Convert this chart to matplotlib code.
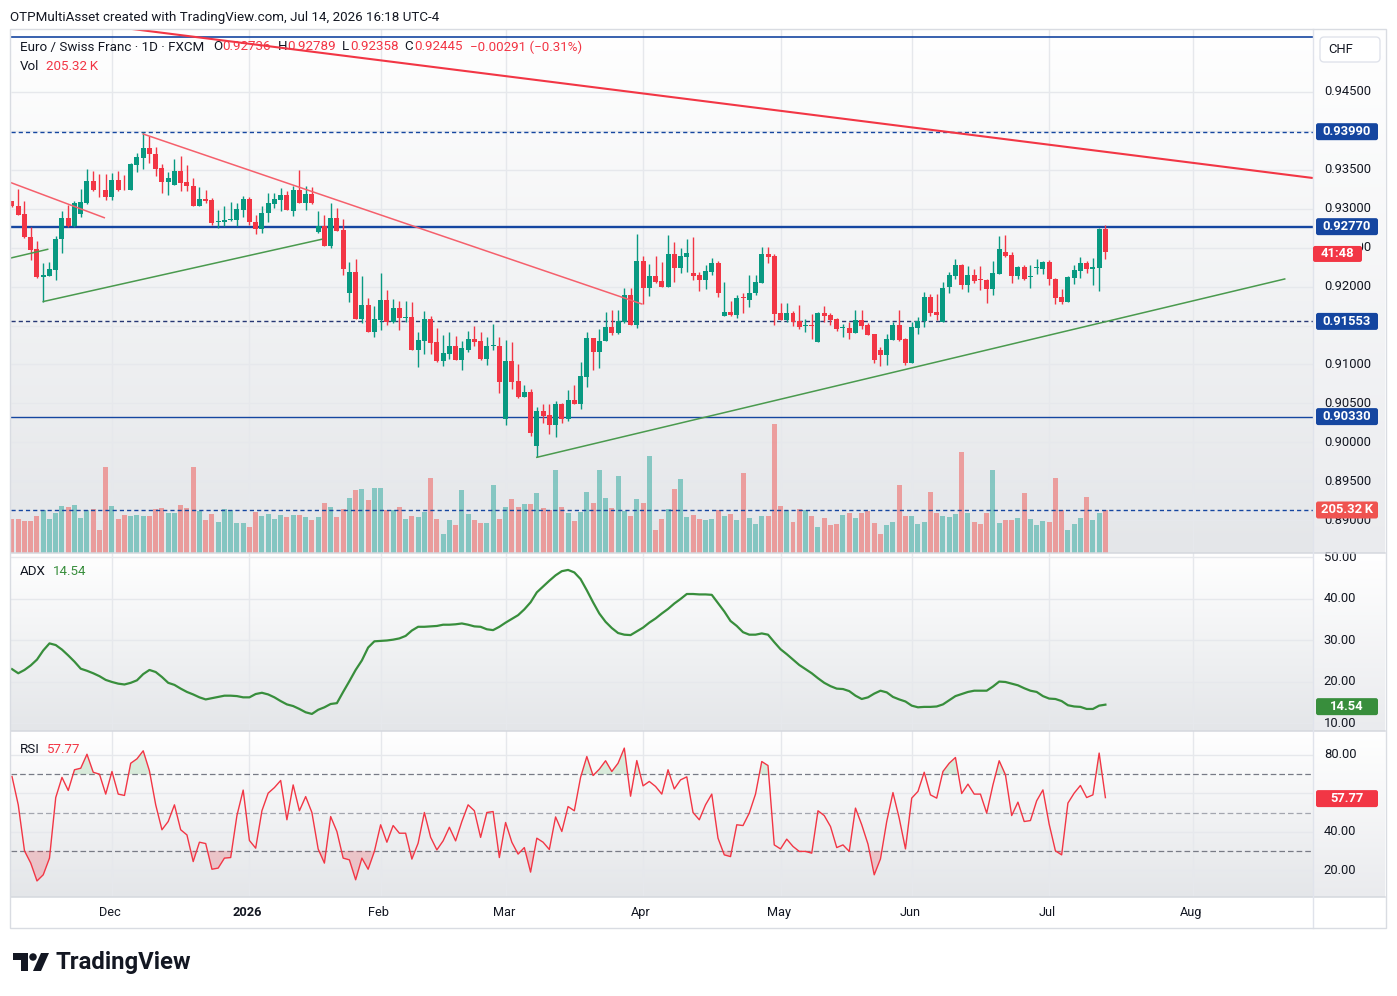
import matplotlib
matplotlib.use("Agg")
import matplotlib.pyplot as plt
import matplotlib.colors as mcolors
from matplotlib.patches import Rectangle, Ellipse, Polygon, FancyBboxPatch
from matplotlib.transforms import Bbox
import numpy as np
import pandas as pd

plt.rcParams['font.family'] = ['Roboto', 'DejaVu Sans']

# ---------------- data (EUR/CHF daily) ----------------
opens = [
    0.93094, 0.93038, 0.92936, 0.92641, 0.92487, 0.92120, 0.92141, 0.92218, 0.92607, 0.92885,
    0.92774, 0.92927, 0.93077, 0.93359, 0.93256, 0.93244, 0.93145, 0.93372, 0.93256, 0.93235,
    0.93564, 0.93658, 0.93782, 0.93709, 0.93526, 0.93338, 0.93299, 0.93487, 0.93338, 0.93295,
    0.93030, 0.93128, 0.93115, 0.92825, 0.92825, 0.92850, 0.92850, 0.92987, 0.93128, 0.92833,
    0.92744, 0.92940, 0.93064, 0.93115, 0.93179, 0.92974, 0.93244, 0.93068, 0.93192, 0.92705,
    0.92782, 0.92526, 0.92885, 0.92731, 0.91924, 0.92193, 0.91578, 0.91770, 0.91412, 0.91565,
    0.91834, 0.91544, 0.91719, 0.91595, 0.91604, 0.91180, 0.91296, 0.91578, 0.91283, 0.91040,
    0.91130, 0.91232, 0.91051, 0.91192, 0.91333, 0.91295, 0.91064, 0.91235, 0.91243, 0.90295,
    0.91038, 0.90782, 0.90577, 0.90641, 0.89948, 0.90397, 0.90346, 0.90218, 0.90487, 0.90295,
    0.90538, 0.90487, 0.90833, 0.91346, 0.91166, 0.91295, 0.91487, 0.91410, 0.91551, 0.91897,
    0.91513, 0.92333, 0.91987, 0.92141, 0.92077, 0.92000, 0.92423, 0.92244, 0.92385, 0.92180,
    0.92154, 0.92090, 0.92192, 0.92308, 0.91628, 0.91679, 0.91641, 0.91859, 0.91833, 0.91923,
    0.92051, 0.92423, 0.92397, 0.91667, 0.91577, 0.91667, 0.91564, 0.91491, 0.91500, 0.91282,
    0.91667, 0.91641, 0.91590, 0.91470, 0.91474, 0.91410, 0.91577, 0.91513, 0.91397, 0.91192,
    0.91115, 0.91320, 0.91513, 0.91333, 0.91013, 0.91474, 0.91564, 0.91872, 0.91679, 0.91551,
    0.92000, 0.92141, 0.92282, 0.92026, 0.92154, 0.92090, 0.92090, 0.91974, 0.92167, 0.92449,
    0.92410, 0.92141, 0.92256, 0.92120, 0.92235, 0.92231, 0.92320, 0.92102, 0.91872, 0.91808,
    0.92115, 0.92205, 0.92308, 0.92231, 0.92244, 0.92736]
highs = [
    0.93103, 0.93256, 0.93103, 0.92761, 0.92590, 0.92304, 0.92321, 0.92645, 0.92966, 0.93051,
    0.93103, 0.93256, 0.93513, 0.93479, 0.93449, 0.93444, 0.93453, 0.93483, 0.93436, 0.93585,
    0.93718, 0.93990, 0.93936, 0.93790, 0.93577, 0.93474, 0.93641, 0.93679, 0.93564, 0.93397,
    0.93282, 0.93244, 0.93137, 0.92987, 0.93038, 0.93090, 0.93077, 0.93167, 0.93145, 0.92915,
    0.93038, 0.93196, 0.93205, 0.93265, 0.93231, 0.93295, 0.93500, 0.93295, 0.93282, 0.92974,
    0.92923, 0.93077, 0.93013, 0.92872, 0.92321, 0.92359, 0.92133, 0.91860, 0.91745, 0.92180,
    0.91950, 0.91847, 0.91821, 0.91821, 0.91796, 0.91412, 0.91693, 0.91617, 0.91463, 0.91373,
    0.91412, 0.91360, 0.91307, 0.91436, 0.91500, 0.91423, 0.91359, 0.91525, 0.91359, 0.91320,
    0.91282, 0.91000, 0.90731, 0.90679, 0.90448, 0.90487, 0.90487, 0.90525, 0.90500, 0.90666,
    0.90731, 0.91026, 0.91423, 0.91346, 0.91461, 0.91679, 0.91705, 0.91705, 0.91987, 0.91987,
    0.92680, 0.92397, 0.92295, 0.92397, 0.92320, 0.92667, 0.92577, 0.92500, 0.92615, 0.92641,
    0.92192, 0.92282, 0.92372, 0.92333, 0.92064, 0.91820, 0.91897, 0.91923, 0.92154, 0.92154,
    0.92513, 0.92513, 0.92423, 0.91795, 0.91795, 0.91692, 0.91769, 0.91590, 0.91654, 0.91679,
    0.91756, 0.91667, 0.91602, 0.91525, 0.91551, 0.91705, 0.91705, 0.91538, 0.91397, 0.91218,
    0.91397, 0.91551, 0.91705, 0.91346, 0.91551, 0.91615, 0.91936, 0.91910, 0.91910, 0.92064,
    0.92192, 0.92359, 0.92295, 0.92269, 0.92231, 0.92269, 0.92102, 0.92333, 0.92654, 0.92667,
    0.92449, 0.92269, 0.92282, 0.92282, 0.92359, 0.92333, 0.92346, 0.92115, 0.91974, 0.92141,
    0.92282, 0.92385, 0.92333, 0.92372, 0.92756, 0.92789]
lows = [
    0.93021, 0.92915, 0.92624, 0.92338, 0.92116, 0.91808, 0.92133, 0.92082, 0.92428, 0.92765,
    0.92761, 0.92889, 0.93064, 0.93222, 0.93154, 0.93111, 0.93115, 0.93231, 0.93244, 0.93235,
    0.93466, 0.93513, 0.93585, 0.93423, 0.93205, 0.93171, 0.93299, 0.93222, 0.93222, 0.93030,
    0.93030, 0.93073, 0.92791, 0.92748, 0.92774, 0.92838, 0.92774, 0.92889, 0.92791, 0.92671,
    0.92684, 0.92833, 0.93013, 0.92966, 0.92979, 0.92902, 0.93068, 0.92979, 0.93056, 0.92692,
    0.92526, 0.92500, 0.92718, 0.92154, 0.91808, 0.91578, 0.91527, 0.91412, 0.91348, 0.91437,
    0.91501, 0.91527, 0.91437, 0.91544, 0.91180, 0.90962, 0.91130, 0.91130, 0.91027, 0.90975,
    0.91066, 0.91053, 0.90923, 0.91154, 0.91231, 0.91051, 0.90987, 0.91192, 0.90628, 0.90218,
    0.90679, 0.90564, 0.90577, 0.90077, 0.89807, 0.90243, 0.90102, 0.90064, 0.90243, 0.90269,
    0.90487, 0.90423, 0.90705, 0.90923, 0.90948, 0.91295, 0.91384, 0.91397, 0.91538, 0.91513,
    0.91474, 0.91782, 0.91884, 0.92051, 0.92000, 0.92000, 0.92064, 0.92180, 0.92192, 0.92090,
    0.91949, 0.91974, 0.92154, 0.91872, 0.91628, 0.91628, 0.91602, 0.91667, 0.91743, 0.91897,
    0.92051, 0.92308, 0.91513, 0.91577, 0.91551, 0.91500, 0.91461, 0.91423, 0.91333, 0.91282,
    0.91551, 0.91513, 0.91436, 0.91359, 0.91333, 0.91410, 0.91461, 0.91384, 0.91013, 0.90974,
    0.90987, 0.91320, 0.91307, 0.90987, 0.91013, 0.91397, 0.91487, 0.91628, 0.91577, 0.91551,
    0.91923, 0.92102, 0.91974, 0.91936, 0.92051, 0.91961, 0.91795, 0.91897, 0.92167, 0.92385,
    0.92051, 0.92102, 0.92090, 0.91987, 0.92167, 0.92167, 0.92026, 0.91782, 0.91782, 0.91808,
    0.92038, 0.92115, 0.92180, 0.92026, 0.91949, 0.92358]
closes = [
    0.93030, 0.92923, 0.92633, 0.92475, 0.92120, 0.92154, 0.92231, 0.92616, 0.92885, 0.92774,
    0.93077, 0.93090, 0.93359, 0.93244, 0.93248, 0.93145, 0.93372, 0.93244, 0.93248, 0.93577,
    0.93666, 0.93782, 0.93697, 0.93517, 0.93338, 0.93397, 0.93487, 0.93329, 0.93286, 0.93030,
    0.93128, 0.93103, 0.92812, 0.92833, 0.92859, 0.92859, 0.93000, 0.93128, 0.92825, 0.92744,
    0.92949, 0.93073, 0.93128, 0.93179, 0.92979, 0.93244, 0.93068, 0.93192, 0.93077, 0.92782,
    0.92526, 0.92885, 0.92718, 0.92231, 0.92193, 0.91578, 0.91770, 0.91412, 0.91578, 0.91834,
    0.91544, 0.91719, 0.91591, 0.91604, 0.91180, 0.91309, 0.91578, 0.91271, 0.91040, 0.91143,
    0.91232, 0.91053, 0.91205, 0.91333, 0.91282, 0.91064, 0.91231, 0.91243, 0.90769, 0.91038,
    0.90769, 0.90577, 0.90641, 0.90115, 0.90397, 0.90333, 0.90218, 0.90487, 0.90295, 0.90538,
    0.90487, 0.90846, 0.91346, 0.91166, 0.91307, 0.91487, 0.91410, 0.91564, 0.91897, 0.91513,
    0.92333, 0.91987, 0.92141, 0.92064, 0.92000, 0.92423, 0.92244, 0.92397, 0.92436, 0.92141,
    0.92090, 0.92205, 0.92308, 0.91923, 0.91679, 0.91641, 0.91859, 0.91850, 0.91923, 0.92064,
    0.92423, 0.92385, 0.91654, 0.91577, 0.91667, 0.91551, 0.91487, 0.91500, 0.91491, 0.91667,
    0.91628, 0.91577, 0.91449, 0.91478, 0.91410, 0.91577, 0.91500, 0.91384, 0.91051, 0.91115,
    0.91333, 0.91513, 0.91320, 0.91013, 0.91487, 0.91564, 0.91872, 0.91667, 0.91641, 0.91987,
    0.92154, 0.92282, 0.92026, 0.92154, 0.92077, 0.92081, 0.91974, 0.92180, 0.92487, 0.92397,
    0.92141, 0.92256, 0.92102, 0.92128, 0.92244, 0.92320, 0.92102, 0.91859, 0.91808, 0.92128,
    0.92218, 0.92308, 0.92231, 0.92256, 0.92744, 0.92445]
volumes_k = [
    163, 163, 154, 154, 177, 205, 163, 191, 224, 219,
    229, 168, 205, 210, 111, 412, 224, 163, 182, 177,
    182, 177, 177, 210, 215, 191, 191, 229, 215, 412,
    201, 158, 186, 149, 210, 205, 144, 144, 125, 194,
    177, 186, 163, 182, 172, 182, 182, 172, 158, 172,
    238, 219, 172, 210, 262, 299, 304, 252, 309, 309,
    205, 205, 219, 163, 177, 172, 194, 356, 163, 92,
    158, 135, 299, 186, 158, 144, 144, 323, 163, 219,
    257, 219, 233, 233, 285, 215, 205, 398, 219, 191,
    154, 194, 290, 238, 398, 262, 215, 370, 201, 177,
    257, 238, 464, 111, 163, 210, 304, 351, 172, 182,
    163, 158, 163, 205, 177, 186, 158, 384, 168, 139,
    177, 177, 614, 224, 205, 149, 210, 205, 177, 125,
    168, 135, 139, 182, 191, 168, 191, 201, 144, 92,
    135, 149, 323, 177, 177, 139, 149, 290, 191, 177,
    172, 186, 483, 191, 149, 139, 191, 398, 144, 158,
    158, 168, 285, 163, 135, 154, 149, 356, 205, 111,
    139, 168, 266, 158, 191, 205.32]
adx = [
    23.1, 22.1, 22.9, 24.0, 25.4, 27.6, 29.3, 28.9, 27.8, 26.4,
    24.9, 23.2, 22.7, 22.1, 21.4, 20.5, 20.0, 19.6, 19.4, 19.8,
    20.4, 21.9, 22.9, 22.4, 21.2, 19.8, 19.3, 18.4, 17.6, 17.0,
    16.3, 15.8, 16.1, 16.4, 16.7, 16.7, 16.6, 16.3, 16.3, 17.1,
    17.4, 17.0, 16.3, 15.4, 14.6, 14.2, 13.5, 12.7, 12.3, 13.3,
    13.9, 14.7, 14.9, 17.6, 20.2, 22.9, 25.2, 28.3, 29.8, 29.9,
    30.0, 30.2, 30.5, 31.1, 32.4, 33.3, 33.3, 33.4, 33.5, 33.8,
    33.8, 33.9, 34.1, 33.8, 33.4, 33.3, 32.7, 32.5, 33.3, 34.3,
    35.2, 36.1, 37.5, 39.2, 41.6, 43.0, 44.4, 45.7, 46.7, 47.0,
    46.4, 44.8, 42.1, 39.2, 36.5, 34.5, 33.0, 31.8, 31.4, 31.3,
    32.2, 33.1, 34.3, 35.3, 36.5, 37.6, 38.9, 40.0, 41.2, 41.2,
    41.1, 41.1, 41.0, 39.0, 37.0, 34.7, 33.5, 32.0, 31.4, 31.4,
    31.7, 31.4, 29.6, 27.9, 26.7, 25.4, 24.1, 23.1, 22.1, 20.9,
    19.8, 19.0, 18.4, 18.3, 17.8, 16.7, 15.9, 16.3, 17.2, 17.9,
    17.5, 16.4, 15.8, 15.3, 14.3, 13.9, 14.0, 14.0, 14.1, 14.6,
    15.6, 16.6, 17.1, 17.6, 17.9, 17.9, 17.9, 18.9, 20.1, 20.0,
    19.6, 19.2, 18.5, 17.9, 17.6, 16.6, 16.0, 15.9, 15.4, 14.4,
    14.1, 14.0, 13.5, 13.5, 14.3, 14.54]
rsi = [
    68.8, 54.0, 30.0, 23.6, 14.3, 17.5, 26.2, 57.8, 68.3, 61.5,
    72.3, 73.1, 80.4, 71.0, 70.0, 59.6, 71.4, 59.6, 58.9, 75.7,
    78.0, 82.2, 71.7, 54.0, 41.0, 45.3, 54.0, 41.0, 38.3, 24.4,
    34.5, 33.8, 20.4, 21.0, 26.2, 26.5, 48.4, 61.7, 35.4, 31.4,
    50.9, 60.1, 63.0, 66.7, 46.2, 64.4, 50.9, 58.3, 50.0, 31.0,
    23.6, 47.9, 40.1, 26.2, 25.3, 14.9, 26.2, 20.4, 29.7, 43.6,
    34.5, 43.2, 39.2, 39.2, 25.7, 34.0, 50.0, 37.1, 30.5, 35.2,
    42.3, 35.2, 45.3, 54.0, 50.9, 37.0, 50.0, 50.5, 26.5, 44.8,
    34.5, 28.3, 31.7, 18.9, 36.6, 34.5, 30.7, 47.7, 40.1, 53.1,
    50.9, 68.3, 79.2, 69.3, 72.6, 77.0, 71.4, 75.7, 83.6, 58.5,
    77.1, 63.9, 66.2, 63.6, 59.6, 72.3, 62.3, 67.0, 68.6, 50.0,
    46.2, 54.0, 59.6, 36.6, 27.9, 27.0, 43.6, 43.2, 49.7, 59.6,
    76.6, 74.5, 33.1, 31.0, 36.1, 32.3, 29.7, 29.7, 28.8, 50.9,
    48.4, 42.7, 31.7, 33.1, 29.7, 52.3, 43.6, 33.5, 17.5, 25.8,
    45.3, 60.4, 47.0, 31.0, 57.5, 61.0, 71.0, 59.2, 57.5, 71.4,
    75.7, 78.7, 59.9, 64.8, 59.6, 59.6, 49.7, 64.4, 77.0, 69.7,
    48.4, 55.4, 45.3, 45.8, 56.1, 61.8, 43.9, 30.0, 27.9, 54.9,
    60.1, 64.1, 57.8, 59.2, 81.0, 57.77]

# drawn levels and trend lines (bar index, price)
level_top = 0.95207
level_r1 = 0.93990
level_r2 = 0.92770
level_s1 = 0.91553
level_s2 = 0.90330
red_long = ([0, 208.2], [0.95504, 0.93395])
red_short_a = ([-0.16, 14.77], [0.93335, 0.92885])
red_short_b = ([21, 100.8], [0.93960, 0.91777])
green_a = ([5, 49.57], [0.91808, 0.92608])
green_b = ([-0.16, 5.71], [0.92368, 0.92479])
green_long = ([84, 203.7], [0.89807, 0.92098])

month_labels = ['Dec', '2026', 'Feb', 'Mar', 'Apr', 'May', 'Jun', 'Jul', 'Aug']
month_starts = [(2025, 12), (2026, 1), (2026, 2), (2026, 3), (2026, 4),
                (2026, 5), (2026, 6), (2026, 7), (2026, 8)]
price_grid = [0.945, 0.940, 0.935, 0.930, 0.925, 0.920, 0.915, 0.910, 0.905, 0.900, 0.895, 0.890]
price_labels = [0.945, 0.935, 0.930, 0.920, 0.910, 0.905, 0.900, 0.895, 0.890]
adx_labels = [50, 40, 30, 20, 10]
rsi_labels = [80, 40, 20]

# ---------------- dates / bar index ----------------
dates = pd.bdate_range('2025-11-07', '2026-07-14')
dates = dates[~dates.isin(pd.to_datetime(['2025-12-25', '2026-01-01']))]
alld = dates.append(pd.bdate_range('2026-07-15', '2026-08-31'))
month_idx = [int(np.argmax((alld.year == y) & (alld.month == m))) for y, m in month_starts]
x = np.arange(len(dates))

o = np.array(opens); h = np.array(highs); l = np.array(lows); c = np.array(closes)
vol = np.array(volumes_k)
adx = np.array(adx); rsi = np.array(rsi)

# ---------------- layout ----------------
W, H = 1397, 996
GREEN = '#089981'
RED = '#f23645'
NAVY = '#1546a0'
DARK = '#131722'
GRID = '#e6e8ec'

BAR0, STEP = 12, 6.248
X0, X1, XS = 11, 1313, 1385
XLIM = ((X0 - BAR0) / STEP, (X1 - BAR0) / STEP)


def rect(x0, y0, x1, y1):
    return [x0 / W, 1 - y1 / H, (x1 - x0) / W, (y1 - y0) / H]


def F(xp, yp):
    return (xp / W, 1 - yp / H)


def gradient(a, top='#ffffff', bottom='#e4e6e9'):
    c0 = np.array(mcolors.to_rgb(top))
    c1 = np.array(mcolors.to_rgb(bottom))
    t = np.linspace(0, 1, 256)[:, None]
    img = (c0 * (1 - t) + c1 * t)[:, None, :]
    a.imshow(img, extent=[0, 1, 0, 1], transform=a.transAxes, aspect='auto',
             zorder=0, interpolation='bilinear')


fig = plt.figure(figsize=(W / 100, H / 100), dpi=100)
fig.patch.set_facecolor('white')

# main pane: volume underneath, price on top
axv = fig.add_axes(rect(X0, 29, X1, 553))
ax = fig.add_axes(rect(X0, 29, X1, 553), sharex=axv)
ax.patch.set_alpha(0)
gradient(axv)

ax2 = fig.add_axes(rect(X0, 553, X1, 731), sharex=axv)
gradient(ax2)
ax3 = fig.add_axes(rect(X0, 731, X1, 897), sharex=axv)
gradient(ax3)

# scale columns
axp = fig.add_axes(rect(X1, 29, XS, 553))
axp2 = fig.add_axes(rect(X1, 553, XS, 731))
axp3 = fig.add_axes(rect(X1, 731, XS, 897))
for a in (axp, axp2, axp3):
    gradient(a, '#ffffff', '#eaebee')

axt = fig.add_axes(rect(X0, 897, X1, 928), sharex=axv)
axt.set_facecolor('#e9eaed')
axt2 = fig.add_axes(rect(X1, 897, XS, 928))
axt2.set_facecolor('#eef0f2')

ax.set_ylim(0.88578, 0.95309)
axv.set_ylim(0, 2502)
ax2.set_ylim(8.19, 51.08)
ax3.set_ylim(5.92, 92.52)
axp.set_ylim(ax.get_ylim()); axp2.set_ylim(ax2.get_ylim()); axp3.set_ylim(ax3.get_ylim())
for a in (axp, axp2, axp3, axt2):
    a.set_xlim(0, 1)
axt.set_ylim(0, 1)
axv.set_xlim(*XLIM)
for a in (ax, axv, ax2, ax3, axp, axp2, axp3, axt, axt2):
    a.set_axis_off()

# grids
for mi in month_idx:
    for a in (axv, ax2, ax3):
        a.axvline(mi, color=GRID, lw=1, zorder=1)
axv.hlines(price_grid, XLIM[0], XLIM[1], colors=GRID, lw=1, zorder=1, transform=ax.transData)
for v in (10, 20, 30, 40, 50):
    ax2.axhline(v, color=GRID, lw=1, zorder=1)
for v in (20, 40, 60, 80):
    ax3.axhline(v, color=GRID, lw=1, zorder=1)

# volume
up = c >= o
vcol = np.where(up, '#26a69a', '#ef5350')
axv.bar(x, vol, width=0.8, color=vcol, alpha=0.5, linewidth=0, zorder=2)
axv.axhline(vol[-1], color=NAVY, lw=1, ls=(0, (3, 2.2)), zorder=3)

# levels
ax.axhline(level_top, color=NAVY, lw=1.2, zorder=3)
ax.axhline(level_r1, color=NAVY, lw=1.0, ls=(0, (3, 2.2)), zorder=3)
ax.axhline(level_r2, color=NAVY, lw=1.7, zorder=3)
ax.axhline(level_s1, color='#263774', lw=1.0, ls=(0, (3, 2.2)), zorder=3)
ax.axhline(level_s2, color=NAVY, lw=1.0, zorder=3)

# trend lines
ax.plot(*red_long, color=RED, lw=1.5, zorder=6, solid_capstyle='butt')
ax.plot(*red_short_a, color='#f5606c', lw=1.1, zorder=6)
ax.plot(*red_short_b, color='#f5606c', lw=1.1, zorder=6)
for gl in (green_a, green_b, green_long):
    ax.plot(*gl, color='#4a9a4e', lw=1.1, zorder=6)

# candles
ccol = np.where(up, GREEN, RED)
ax.vlines(x, l, h, colors=ccol, lw=1.0, zorder=4)
ax.bar(x, np.maximum(np.abs(c - o), 0.00012), bottom=np.minimum(o, c), width=0.8,
       color=ccol, linewidth=0, zorder=5)

# ADX
ax2.plot(x, adx, color='#388e3c', lw=1.6, zorder=3)

# RSI
ax3.axhline(70, color='#787b86', lw=0.9, ls=(0, (4.5, 2.4)), zorder=2)
ax3.axhline(50, color='#a3a6af', lw=0.9, ls=(0, (4.5, 2.4)), zorder=2)
ax3.axhline(30, color='#787b86', lw=0.9, ls=(0, (4.5, 2.4)), zorder=2)
ax3.fill_between(x, rsi, 70, where=rsi > 70, interpolate=True, color='#4caf50', alpha=0.18, lw=0, zorder=2)
ax3.fill_between(x, rsi, 30, where=rsi < 30, interpolate=True, color=RED, alpha=0.22, lw=0, zorder=2)
ax3.plot(x, rsi, color=RED, lw=1.0, zorder=3)

# legend texts (inside the price pane so the trend line passes over them)
fs = 9.6
def leg(xp, yp, s, col=DARK, **kw):
    ax.text(*F(xp, yp), s, transform=fig.transFigure, color=col, fontsize=fs,
            va='center', ha='left', zorder=1, **kw)

leg(20, 47, 'Euro / Swiss Franc \u00b7 1D \u00b7 FXCM')
for lab, xl, val, xv in (('O', 213, '0.92736', 222), ('H', 278, '0.92789', 287),
                         ('L', 342, '0.92358', 350), ('C', 404, '0.92445', 414)):
    leg(xl, 47, lab)
    leg(xv, 47, val, RED)
leg(470, 47, '\u22120.00291 (\u22120.31%)', RED)
leg(20, 66, 'Vol')
leg(46, 66, '205.32\u2009K', RED)
fig.text(*F(20, 571), 'ADX', color=DARK, fontsize=fs, va='center')
fig.text(*F(53, 571), '14.54', color='#388e3c', fontsize=fs, va='center')
fig.text(*F(20, 749), 'RSI', color=DARK, fontsize=fs, va='center')
fig.text(*F(46, 749), '57.77', color=RED, fontsize=fs, va='center')

fig.text(*F(10, 17), 'OTPMultiAsset created with TradingView.com, Jul 14, 2026 16:18 UTC-4',
         color=DARK, fontsize=9.6, va='center')

# scale labels
for p in price_labels:
    axp.text(0.15, p, '%.5f' % p, color=DARK, fontsize=9.4, va='center', zorder=2)
# 0.92500 sits behind the countdown tag; only its last digit shows
t925 = axp.text(0.15, 0.925, '0.92500', color=DARK, fontsize=9.4, va='center', zorder=2)
t925.set_clip_box(Bbox([[1362, 0], [XS, H]]))
t925.set_clip_on(True)
for v in adx_labels:
    axp2.text(0.15, v, '%.2f' % v, color=DARK, fontsize=9.4, va='center', zorder=2)
for v in rsi_labels:
    axp3.text(0.15, v, '%.2f' % v, color=DARK, fontsize=9.4, va='center', zorder=2)


def tag(a, val, s, fc, x0=1316, x1=1378, hgt=17, dy=0, tc='white'):
    yd = H - a.transData.transform((0, val))[1] + dy
    fig.add_artist(FancyBboxPatch(F(x0, yd + hgt / 2), (x1 - x0) / W, hgt / H,
                                  boxstyle='round,pad=0,rounding_size=0.0016',
                                  mutation_aspect=W / H, transform=fig.transFigure,
                                  fc=fc, ec='none', zorder=10))
    fig.text(*F((x0 + x1) / 2, yd), s, color=tc, fontsize=9.4, fontweight='bold',
             ha='center', va='center', zorder=11)


tag(axp, level_r1, '0.93990', NAVY)
tag(axp, level_r2, '0.92770', NAVY)
tag(axp, c[-1], '41:48', RED, x0=1313, x1=1362, hgt=16, dy=2)
tag(axp, level_s1, '0.91553', NAVY)
tag(axp, level_s2, '0.90330', NAVY)
tag(axv, vol[-1], '205.32\u2009K', '#ef5350')
tag(axp2, adx[-1], '14.54', '#388e3c', dy=2)
tag(axp3, rsi[-1], '57.77', RED, dy=1)

# CHF unit box
fig.add_artist(FancyBboxPatch(F(1320, 62), 60 / W, 25 / H,
                              boxstyle='round,pad=0,rounding_size=0.003', mutation_aspect=W / H,
                              transform=fig.transFigure, fc='white', ec='#e0e3eb', lw=1, zorder=10))
fig.text(*F(1341, 49.5), 'CHF', color=DARK, fontsize=9.4, ha='center', va='center', zorder=11)

# time axis labels
for mi, lab in zip(month_idx, month_labels):
    axt.text(mi - 0.3, 0.5, lab, color=DARK, fontsize=9.2, ha='center', va='center',
             fontweight='bold' if lab == '2026' else 'normal')

# pane separators and frame
for yp in (553, 731, 897):
    fig.add_artist(plt.Line2D([X0 / W, XS / W], [1 - yp / H] * 2, color='#d5d8de', lw=1.1,
                              transform=fig.transFigure, zorder=9))
fig.add_artist(plt.Line2D([X1 / W] * 2, [1 - 928 / H, 1 - 29 / H], color='#e0e3eb', lw=1,
                          transform=fig.transFigure, zorder=9))
fig.add_artist(Rectangle(F(10, 928), (XS + 1 - 10) / W, (928 - 29) / H, fill=False,
                         ec='#d9dce2', lw=1, transform=fig.transFigure, zorder=9))

# TradingView logo
logo_parts = [
    Rectangle(F(13, 960), 15 / W, 7 / H),
    Rectangle(F(21, 971), 7 / W, 18 / H),
    Ellipse(F(33, 957), 7.5 / W, 7.5 / H),
    Polygon([F(41, 953), F(49, 953), F(41, 971), F(33, 971)]),
]
for pt in logo_parts:
    pt.set_transform(fig.transFigure)
    pt.set_facecolor(DARK)
    pt.set_edgecolor('none')
    fig.add_artist(pt)
fig.text(*F(55, 962), 'TradingView', color=DARK, fontsize=17.2, fontweight='bold',
         ha='left', va='center')

fig.savefig('out.png', dpi=100)
